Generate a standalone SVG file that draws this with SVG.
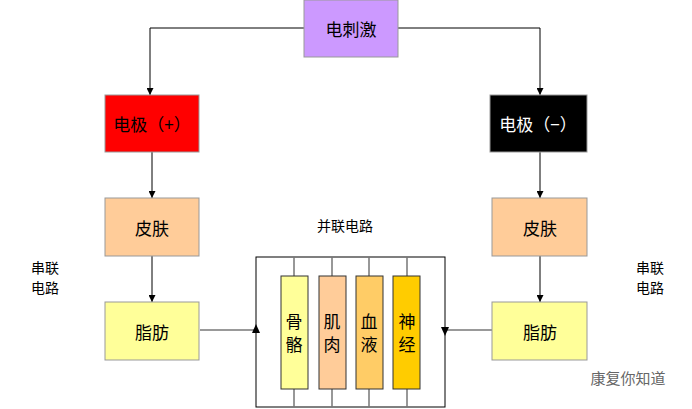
<svg xmlns="http://www.w3.org/2000/svg" width="692" height="409" viewBox="0 0 692 409">
<style>
.t{font-family:"Noto Sans CJK SC","Liberation Sans",sans-serif;font-size:17px;text-anchor:middle;dominant-baseline:central;fill:#000}
.s{font-family:"Noto Sans CJK SC",sans-serif;font-size:14px;text-anchor:middle;fill:#000}
.b{stroke:#999;stroke-width:1}
.c{fill:none;stroke:#000;stroke-width:1}
.g{fill:none;stroke:#777;stroke-width:1.5}
</style>
<defs><marker id="a" viewBox="0 0 10 10" refX="10" refY="5" markerWidth="7" markerHeight="7" orient="auto"><path d="M0,0L10,5L0,10z" fill="#000"/></marker></defs>
<rect width="692" height="409" fill="#fff"/>
<g id="connectors">
<path class="c" d="M304,28H150V95" marker-end="url(#a)"/>
<path class="c" d="M398,28H540V95" marker-end="url(#a)"/>
<path class="c" d="M152,152V198" marker-end="url(#a)"/>
<path class="c" d="M152,256V302" marker-end="url(#a)"/>
<path class="c" d="M540,152V198" marker-end="url(#a)"/>
<path class="c" d="M540,256V302" marker-end="url(#a)"/>
<path class="g" d="M200,330H256"/>
<path class="g" d="M445,330H492"/>
<path d="M256,324L252,333H260z" fill="#000"/>
<path d="M445,336L441,327H449z" fill="#000"/>
<rect x="256" y="257" width="189" height="150" fill="none" stroke="#000"/>
<path class="g" d="M294,257V276M332,257V276M369,257V276M407,257V276M294,389V407M332,389V407M369,389V407M407,389V407"/>
</g>
<g id="n1"><rect x="304" y="0" width="94" height="57" fill="#CC99FF" class="b"/><text class="t" x="351" y="28">电刺激</text></g>
<g id="n2"><rect x="105" y="95" width="94" height="57" fill="#FF0000" class="b"/><text class="t" x="152" y="123">电极（+）</text></g>
<g id="n3"><rect x="490" y="95" width="97" height="57" fill="#000" class="b"/><text class="t" x="538" y="123" style="fill:#fff">电极（−）</text></g>
<g id="n4"><rect x="105" y="198" width="94" height="58" fill="#FFCC99" class="b"/><text class="t" x="152" y="227">皮肤</text></g>
<g id="n5"><rect x="492" y="198" width="95" height="58" fill="#FFCC99" class="b"/><text class="t" x="540" y="227">皮肤</text></g>
<g id="n6"><rect x="105" y="302" width="94" height="58" fill="#FFFF99" class="b"/><text class="t" x="152" y="331">脂肪</text></g>
<g id="n7"><rect x="492" y="302" width="95" height="58" fill="#FFFF99" class="b"/><text class="t" x="540" y="331">脂肪</text></g>
<g id="n8"><rect x="281" y="276" width="27" height="113" fill="#FFFF99" stroke="#333"/><text class="t" x="294" y="320">骨</text><text class="t" x="294" y="343">骼</text></g>
<g id="n9"><rect x="319" y="276" width="27" height="113" fill="#FFCC99" stroke="#333"/><text class="t" x="332" y="320">肌</text><text class="t" x="332" y="343">肉</text></g>
<g id="n10"><rect x="356" y="276" width="27" height="113" fill="#FFCC66" stroke="#333"/><text class="t" x="369" y="320">血</text><text class="t" x="369" y="343">液</text></g>
<g id="n11"><rect x="393" y="276" width="27" height="113" fill="#FFCC00" stroke="#333"/><text class="t" x="407" y="320">神</text><text class="t" x="407" y="343">经</text></g>
<text class="s" x="345" y="231">并联电路</text>
<text class="s" x="45" y="273">串联</text><text class="s" x="45" y="293">电路</text>
<text class="s" x="650" y="273">串联</text><text class="s" x="650" y="293">电路</text>
<text x="628" y="384" style="font-family:'Noto Sans CJK SC',sans-serif;font-size:15px;fill:#666;text-anchor:middle">康复你知道</text>
</svg>
